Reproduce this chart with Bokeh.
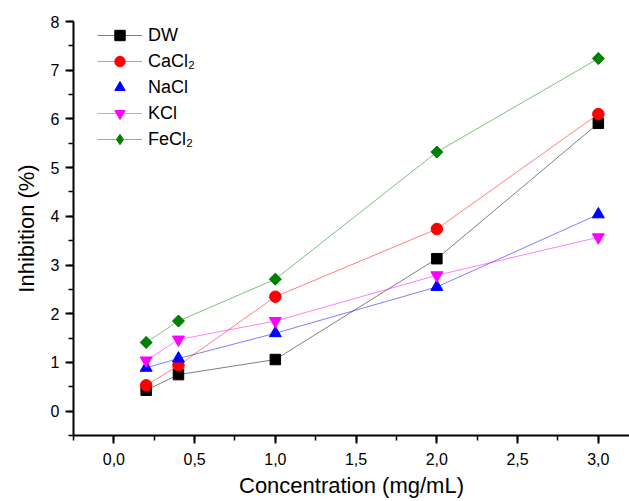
import math
from bokeh.plotting import figure
from bokeh.models import Range1d, SingleIntervalTicker, CustomJSTickFormatter, Legend, LegendItem
from bokeh.embed import file_html
from bokeh.resources import INLINE

# ---- data ----
concentration = [0.2, 0.4, 1.0, 2.0, 3.0]
dw = [0.43, 0.75, 1.06, 3.13, 5.91]
cacl2 = [0.53, 0.94, 2.35, 3.74, 6.10]
nacl = [0.89, 1.08, 1.60, 2.55, 4.04]
kcl = [1.04, 1.47, 1.85, 2.79, 3.57]
fecl2 = [1.41, 1.85, 2.71, 5.32, 7.24]

series_names = ["DW", "CaCl\u2082", "NaCl", "KCl", "FeCl\u2082"]
series_values = [dw, cacl2, nacl, kcl, fecl2]
series_colors = ["#000000", "#ff0000", "#0000ff", "#ff00ff", "#008000"]
series_markers = ["square", "circle", "triangle", "inverted_triangle", "square"]
legend_markers = ["square", "circle", "triangle", "inverted_triangle", "diamond"]
series_sizes = [10.5, 11.5, 12, 12, 8.5]
series_angles = [0, 0, 0, 0, math.pi / 4]

FONT = "Liberation Sans"

p = figure(width=629, height=501, output_backend="svg", toolbar_location=None,
           x_range=Range1d(-0.25, 3.193), y_range=Range1d(-0.5, 8.0),
           min_border_left=73, min_border_right=0, min_border_top=21, min_border_bottom=66)

p.outline_line_color = None
p.xgrid.visible = False
p.ygrid.visible = False
p.background_fill_color = "white"

items = []
for name, vals, col, mk, lmk, sz, ang in zip(series_names, series_values, series_colors,
                                              series_markers, legend_markers,
                                              series_sizes, series_angles):
    ln = p.line(concentration, vals, line_color=col, line_width=1, line_alpha=0.5)
    leg_glyph = None
    if lmk != mk:
        # legend glyph (legend markers are drawn unrotated); hidden under the rotated squares
        leg_glyph = p.scatter(concentration, vals, marker=lmk, size=sz * 1.35,
                              fill_color=col, line_color=col)
    sc = p.scatter(concentration, vals, marker=mk, size=sz, angle=ang,
                   fill_color=col, line_color=col)
    if leg_glyph is None:
        leg_glyph = sc
    if name == "NaCl":
        items.append(LegendItem(label=name, renderers=[leg_glyph]))
    else:
        items.append(LegendItem(label=name, renderers=[ln, leg_glyph]))

legend = Legend(items=items, location=(24, 283), margin=0, padding=0, spacing=0,
                glyph_width=45, glyph_height=26, label_standoff=6,
                border_line_color=None, background_fill_alpha=0,
                label_text_font=FONT, label_text_font_size="18px", label_text_color="black")
p.add_layout(legend)

# axes
p.xaxis.ticker = SingleIntervalTicker(interval=0.5, num_minor_ticks=2)
p.yaxis.ticker = SingleIntervalTicker(interval=1, num_minor_ticks=2)
p.xaxis.formatter = CustomJSTickFormatter(code="return tick.toFixed(1).replace('.', ',');")

for ax in (p.xaxis[0], p.yaxis[0]):
    ax.axis_line_width = 2
    ax.axis_line_color = "black"
    ax.major_tick_line_width = 2
    ax.minor_tick_line_width = 1.5
    ax.major_tick_line_color = "black"
    ax.minor_tick_line_color = "black"
    ax.major_tick_in = 0
    ax.major_tick_out = 8
    ax.minor_tick_in = 0
    ax.minor_tick_out = 5
    ax.major_label_text_font = FONT
    ax.major_label_text_font_size = "16px"
    ax.major_label_text_color = "black"
    ax.axis_label_text_font = FONT
    ax.axis_label_text_font_size = "22px"
    ax.axis_label_text_font_style = "normal"
    ax.axis_label_text_color = "black"

p.xaxis.axis_label = "Concentration (mg/mL)"
p.yaxis.axis_label = "Inhibition (%)"
p.xaxis.major_label_standoff = 9
p.xaxis.axis_label_standoff = 5
p.yaxis.major_label_standoff = 6
p.yaxis.axis_label_standoff = 9

open("out.html", "w").write(file_html(p, INLINE))
